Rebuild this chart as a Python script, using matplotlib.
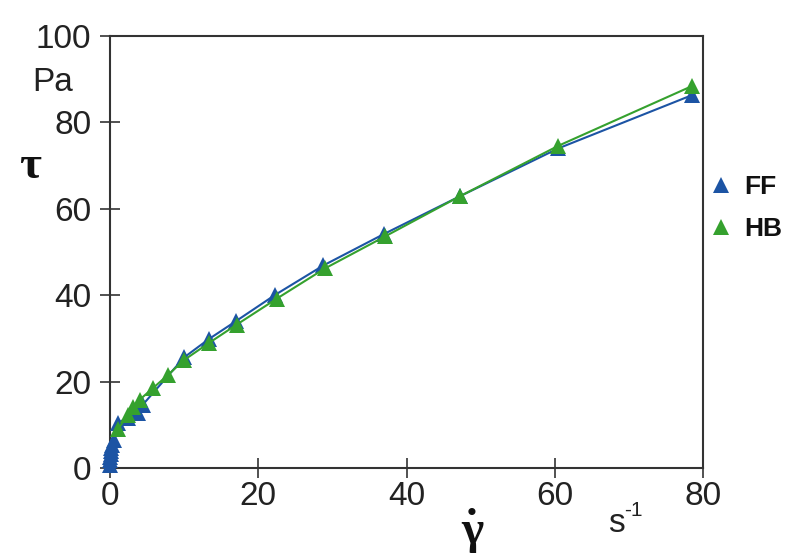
import numpy as np
import matplotlib.pyplot as plt
from matplotlib.lines import Line2D

# shear rate (1/s) and shear stress (Pa)
ff_rate = [0.0, 0.0, 0.05, 0.1, 0.15, 0.2, 0.3, 0.5, 1.1, 2.4, 3.8, 4.4,
           10.0, 13.3, 17.0, 22.3, 28.8, 37.0, 47.2, 60.5, 78.5]
ff_stress = [0.8, 1.8, 2.6, 3.3, 4.0, 4.7, 5.4, 6.4, 10.5, 11.6, 12.8, 14.6,
             25.6, 29.8, 34.0, 40.1, 46.9, 54.2, 62.9, 74.0, 86.3]

hb_rate = [1.1, 2.4, 3.1, 4.0, 5.8, 7.8, 10.0, 13.4, 17.1, 22.5, 29.0, 37.1,
           47.2, 60.5, 78.5]
hb_stress = [9.0, 12.3, 14.2, 15.8, 18.5, 21.5, 25.0, 29.0, 33.2, 39.2, 46.2,
             53.6, 62.9, 74.6, 88.4]

blue = '#1c54a4'
green = '#35a12e'
txt = '#222222'

plt.rcParams['font.family'] = ['Liberation Sans', 'DejaVu Sans']

fig = plt.figure(figsize=(8, 5.58), dpi=100)
ax = fig.add_axes([0.1375, 0.1613, 0.7413, 0.7742])

ax.plot(ff_rate, ff_stress, color=blue, lw=1.5, marker='^', ms=11,
        markeredgewidth=0, zorder=3, clip_on=False)
ax.plot(hb_rate, hb_stress, color=green, lw=1.5, marker='^', ms=11,
        markeredgewidth=0, zorder=4, clip_on=False)

ax.set_xlim(0, 80)
ax.set_ylim(0, 100)
ax.set_xticks([0, 20, 40, 60, 80])
ax.set_yticks([0, 20, 40, 60, 80, 100])
ax.tick_params(direction='inout', length=15, width=1.2, labelsize=24,
               colors='#333333', labelcolor=txt)
ax.tick_params(axis='y', pad=6)
ax.tick_params(axis='x', pad=2)
for sp in ax.spines.values():
    sp.set_linewidth(1.5)
    sp.set_color('#333333')

# axis labels placed like the original
fig.text(0.038, 0.70, 'τ', fontsize=34, color='#111111',
         ha='center', va='center', family='Liberation Serif', weight='bold')
fig.text(0.066, 0.853, 'Pa', fontsize=24, color=txt, ha='center', va='center')
fig.text(0.59, 0.047, 'γ', fontsize=34, color='#111111',
         ha='center', va='center', family='Liberation Serif', weight='bold')
fig.text(0.589, 0.052, '˙', fontsize=34, color='#111111',
         ha='center', va='center', family='Liberation Serif', weight='bold')
fig.text(0.77, 0.062, 's', fontsize=24, color=txt, ha='center', va='center')
fig.text(0.792, 0.085, '-1', fontsize=15, color=txt, ha='center',
         va='center')

handles = [Line2D([], [], color=blue, marker='^', ls='none', ms=11,
                  markeredgewidth=0),
           Line2D([], [], color=green, marker='^', ls='none', ms=11,
                  markeredgewidth=0)]
leg = fig.legend(handles, ['FF', 'HB'], loc='center left',
                 bbox_to_anchor=(0.888, 0.627), frameon=False,
                 prop={'size': 19, 'weight': 'bold'}, handlelength=0.8,
                 handletextpad=0.5, labelspacing=0.7, borderpad=0,
                 borderaxespad=0)
for t in leg.get_texts():
    t.set_color('#111111')

fig.savefig('out.png', dpi=100)
